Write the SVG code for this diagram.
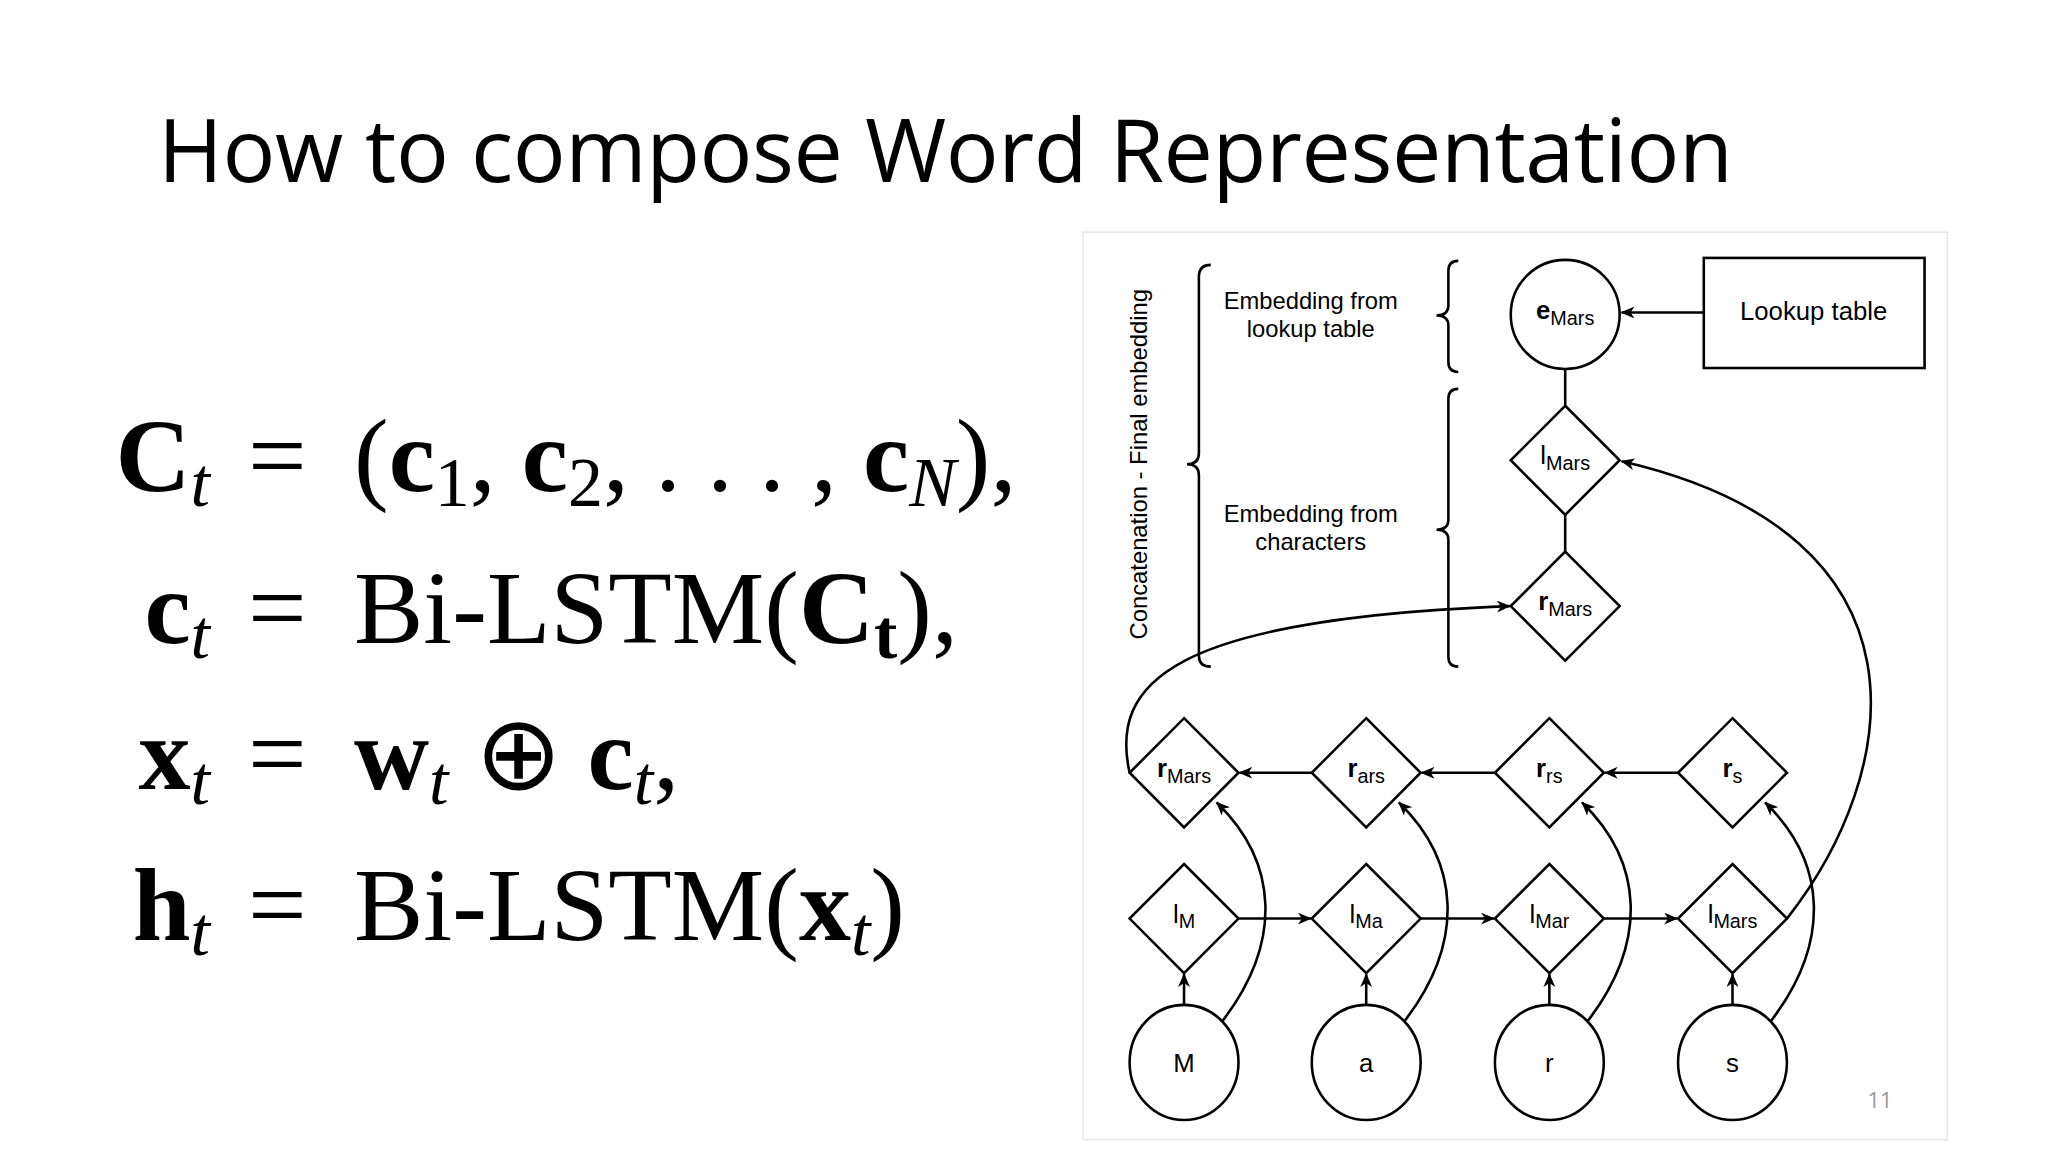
<svg xmlns="http://www.w3.org/2000/svg" width="2048" height="1152" viewBox="0 0 2048 1152">
<style>
.s{fill:none;stroke:#000;stroke-width:2.6}
.n{fill:#fff;stroke:#000;stroke-width:2.6}
.t{font-family:"Liberation Sans",Arial,sans-serif;font-size:24px;fill:#000;text-anchor:middle}
.lb{font-family:"Liberation Sans",Arial,sans-serif;font-size:26px;fill:#000;text-anchor:middle}
.sub{font-size:20px}
.m{font-family:"Liberation Serif","Times New Roman",serif;font-size:104px;fill:#000}
.ms{font-size:70px;font-style:italic;font-weight:normal}
.up{font-style:normal}
</style>
<defs>
<marker id="a" viewBox="0 0 14 12" refX="13" refY="6" markerWidth="14" markerHeight="12" markerUnits="userSpaceOnUse" orient="auto"><path d="M0,0 L14,6 L0,12 L4,6 Z" fill="#000"/></marker>
</defs>
<rect width="2048" height="1152" fill="#fff"/>
<text x="158" y="182" font-family="'Open Sans','Noto Sans',sans-serif" font-size="88" fill="#000" textLength="1575">How to compose Word Representation</text>
<g id="math">
<text class="m" x="210" y="491" text-anchor="end"><tspan font-weight="bold">C</tspan><tspan class="ms" dy="15">t</tspan></text>
<text class="m" x="248" y="491">=</text>
<text class="m" x="354" y="491">(<tspan font-weight="bold">c</tspan><tspan class="ms up" dy="15">1</tspan><tspan dy="-15">, </tspan><tspan font-weight="bold">c</tspan><tspan class="ms up" dy="15">2</tspan><tspan dy="-15">, . . . , </tspan><tspan font-weight="bold">c</tspan><tspan class="ms" dy="15">N</tspan><tspan dy="-15">),</tspan></text>
<text class="m" x="210" y="643" text-anchor="end"><tspan font-weight="bold">c</tspan><tspan class="ms" dy="15">t</tspan></text>
<text class="m" x="248" y="643">=</text>
<text class="m" x="354" y="643">Bi-LSTM(<tspan font-weight="bold">C</tspan><tspan class="ms up" dy="15" style="font-weight:bold">t</tspan><tspan dy="-15">),</tspan></text>
<text class="m" x="210" y="789" text-anchor="end"><tspan font-weight="bold">x</tspan><tspan class="ms" dy="15">t</tspan></text>
<text class="m" x="248" y="789">=</text>
<text class="m" x="354" y="789"><tspan font-weight="bold">w</tspan><tspan class="ms" dy="15">t</tspan><tspan dy="-15"> ⊕ </tspan><tspan font-weight="bold">c</tspan><tspan class="ms" dy="15">t</tspan><tspan dy="-15">,</tspan></text>
<text class="m" x="210" y="940" text-anchor="end"><tspan font-weight="bold">h</tspan><tspan class="ms" dy="15">t</tspan></text>
<text class="m" x="248" y="940">=</text>
<text class="m" x="354" y="940">Bi-LSTM(<tspan font-weight="bold">x</tspan><tspan class="ms" dy="15">t</tspan><tspan dy="-15">)</tspan></text>
</g>
<g transform="matrix(0.99,0,0,0.992,1,-1)">
<rect x="1093" y="235" width="873" height="915" fill="none" stroke="#e6e6e6" stroke-width="1.5"/>
<g id="labels">
<text class="t" transform="translate(1158,469) rotate(-90)">Concatenation - Final embedding</text>
<text class="t" x="1323" y="313">Embedding from</text>
<text class="t" x="1323" y="341">lookup table</text>
<text class="t" x="1323" y="527">Embedding from</text>
<text class="t" x="1323" y="555">characters</text>
<path class="s" d="M1222,268 Q1210,268 1210,280 L1210,458 Q1210,469 1198,469 Q1210,469 1210,480 L1210,662 Q1210,673 1222,673"/>
<path class="s" d="M1472,264 Q1462,264 1462,274 L1462,309 Q1462,319 1450,319 Q1462,319 1462,329 L1462,366 Q1462,376 1472,376"/>
<path class="s" d="M1472,393 Q1462,393 1462,403 L1462,525 Q1462,535 1450,535 Q1462,535 1462,545 L1462,663 Q1462,673 1472,673"/>
<text x="1898" y="1118" font-family="'Open Sans',sans-serif" font-size="22" fill="#999" text-anchor="middle">11</text>
</g>
<g id="connectors">
<line class="s" x1="1720" y1="316" x2="1637" y2="316" marker-end="url(#a)"/>
<line class="s" x1="1580" y1="373" x2="1580" y2="410"/>
<line class="s" x1="1580" y1="520" x2="1580" y2="557"/>
<line class="s" x1="1694" y1="780" x2="1620" y2="780" marker-end="url(#a)"/>
<line class="s" x1="1509" y1="780" x2="1435" y2="780" marker-end="url(#a)"/>
<line class="s" x1="1324" y1="780" x2="1251" y2="780" marker-end="url(#a)"/>
<line class="s" x1="1250" y1="927" x2="1323" y2="927" marker-end="url(#a)"/>
<line class="s" x1="1434" y1="927" x2="1508" y2="927" marker-end="url(#a)"/>
<line class="s" x1="1619" y1="927" x2="1693" y2="927" marker-end="url(#a)"/>
<line class="s" x1="1195" y1="1014" x2="1195" y2="983" marker-end="url(#a)"/>
<line class="s" x1="1379" y1="1014" x2="1379" y2="983" marker-end="url(#a)"/>
<line class="s" x1="1564" y1="1014" x2="1564" y2="983" marker-end="url(#a)"/>
<line class="s" x1="1749" y1="1014" x2="1749" y2="983" marker-end="url(#a)"/>
<path class="s" d="M1234,1030 C1295,950 1290,870 1228,810" marker-end="url(#a)"/>
<path class="s" d="M1418,1030 C1479,950 1474,870 1412,810" marker-end="url(#a)"/>
<path class="s" d="M1603,1030 C1664,950 1659,870 1597,810" marker-end="url(#a)"/>
<path class="s" d="M1788,1030 C1849,950 1844,870 1782,810" marker-end="url(#a)"/>
<path class="s" d="M1140,780 C1120,690 1180,625 1524,612" marker-end="url(#a)"/>
<path class="s" d="M1804,927 C1920,780 1960,540 1637,466" marker-end="url(#a)"/>
</g>
<g id="eMars"><ellipse class="n" cx="1580" cy="318" rx="55" ry="55"/><text class="lb" x="1580" y="323"><tspan font-weight="bold">e</tspan><tspan class="sub" dy="6">Mars</tspan></text></g>
<g id="lookup"><rect class="n" x="1720" y="261" width="223" height="111"/><text class="lb" x="1831" y="324">Lookup table</text></g>
<g id="lMars_top"><path class="n" d="M1580,410 L1635,465 L1580,520 L1525,465 Z"/><text class="lb" x="1580" y="469">l<tspan class="sub" dy="6">Mars</tspan></text></g>
<g id="rMars_top"><path class="n" d="M1580,557 L1635,612 L1580,667 L1525,612 Z"/><text class="lb" x="1580" y="616"><tspan font-weight="bold">r</tspan><tspan class="sub" dy="6">Mars</tspan></text></g>
<g id="rMars"><path class="n" d="M1195,725 L1250,780 L1195,835 L1140,780 Z"/><text class="lb" x="1195" y="784"><tspan font-weight="bold">r</tspan><tspan class="sub" dy="6">Mars</tspan></text></g>
<g id="rars"><path class="n" d="M1379,725 L1434,780 L1379,835 L1324,780 Z"/><text class="lb" x="1379" y="784"><tspan font-weight="bold">r</tspan><tspan class="sub" dy="6">ars</tspan></text></g>
<g id="rrs"><path class="n" d="M1564,725 L1619,780 L1564,835 L1509,780 Z"/><text class="lb" x="1564" y="784"><tspan font-weight="bold">r</tspan><tspan class="sub" dy="6">rs</tspan></text></g>
<g id="rs"><path class="n" d="M1749,725 L1804,780 L1749,835 L1694,780 Z"/><text class="lb" x="1749" y="784"><tspan font-weight="bold">r</tspan><tspan class="sub" dy="6">s</tspan></text></g>
<g id="lM"><path class="n" d="M1195,872 L1250,927 L1195,982 L1140,927 Z"/><text class="lb" x="1195" y="931">l<tspan class="sub" dy="6">M</tspan></text></g>
<g id="lMa"><path class="n" d="M1379,872 L1434,927 L1379,982 L1324,927 Z"/><text class="lb" x="1379" y="931">l<tspan class="sub" dy="6">Ma</tspan></text></g>
<g id="lMar"><path class="n" d="M1564,872 L1619,927 L1564,982 L1509,927 Z"/><text class="lb" x="1564" y="931">l<tspan class="sub" dy="6">Mar</tspan></text></g>
<g id="lMars"><path class="n" d="M1749,872 L1804,927 L1749,982 L1694,927 Z"/><text class="lb" x="1749" y="931">l<tspan class="sub" dy="6">Mars</tspan></text></g>
<g id="cM"><ellipse class="n" cx="1195" cy="1072" rx="55" ry="58"/><text class="lb" x="1195" y="1082" font-size="30">M</text></g>
<g id="ca"><ellipse class="n" cx="1379" cy="1072" rx="55" ry="58"/><text class="lb" x="1379" y="1082" font-size="30">a</text></g>
<g id="cr"><ellipse class="n" cx="1564" cy="1072" rx="55" ry="58"/><text class="lb" x="1564" y="1082" font-size="30">r</text></g>
<g id="cs"><ellipse class="n" cx="1749" cy="1072" rx="55" ry="58"/><text class="lb" x="1749" y="1082" font-size="30">s</text></g>
</g>
</svg>
